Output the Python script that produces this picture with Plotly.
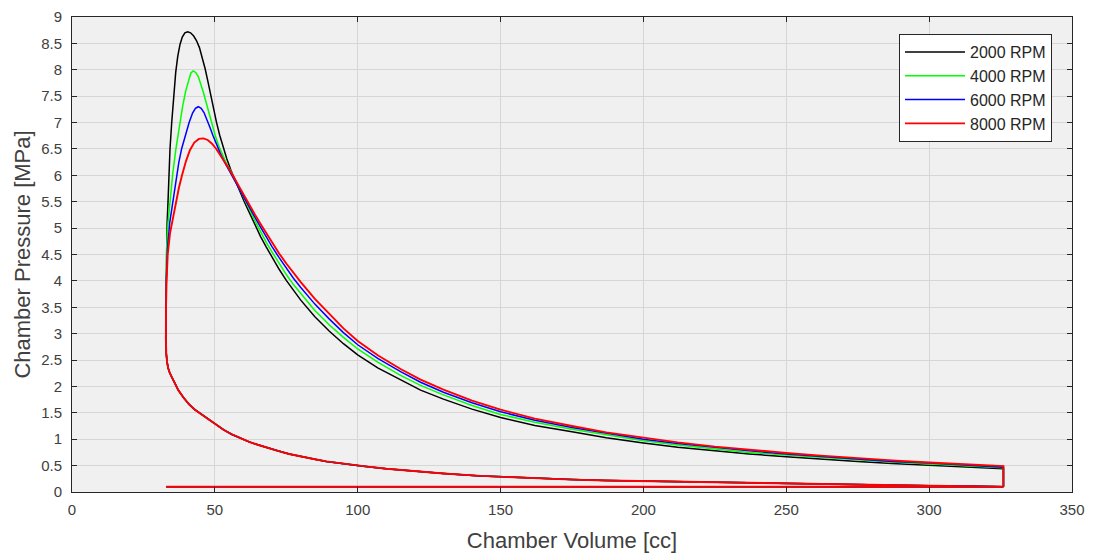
import plotly.graph_objects as go

# ---- shared part of the cycle (intake line + compression) ----
intake_V = [33.0, 326.0]
intake_P = [0.10, 0.10]

comp_V = [326, 313, 300, 287, 275, 262, 250, 237, 225, 212, 200, 187, 175, 166, 157, 143,
          130, 120, 110, 102, 94, 89, 85, 80, 76, 72, 68, 65, 62, 59, 56, 53, 50.6, 47.5,
          45, 43, 41, 39, 37.2, 36.2, 35.5, 34.8, 34.2, 33.7, 33.3, 33.0, 32.85, 32.8, 32.9]
comp_P = [0.105, 0.112, 0.12, 0.13, 0.14, 0.148, 0.155, 0.165, 0.175, 0.187, 0.20, 0.217,
          0.235, 0.252, 0.27, 0.305, 0.35, 0.39, 0.44, 0.49, 0.54, 0.58, 0.62, 0.67, 0.72,
          0.78, 0.84, 0.895, 0.95, 1.02, 1.09, 1.18, 1.27, 1.38, 1.47, 1.56, 1.66, 1.79,
          1.93, 2.03, 2.12, 2.19, 2.26, 2.34, 2.45, 2.62, 2.9, 3.2, 3.5]

# ---- combustion / expansion per engine speed ----
rpm_labels = ["2000 RPM", "4000 RPM", "6000 RPM", "8000 RPM"]
rpm_colors = ["#000000", "#00ff00", "#0000ff", "#ff0000"]
rpm_widths = [1.5, 1.5, 1.5, 1.9]

tail_V = [80, 85, 90, 95, 100, 107, 115, 122, 130, 140, 150, 162, 175, 187, 200, 212,
          225, 237, 250, 262, 275, 287, 300, 313, 326]

exp_V_2000 = [33.0, 33.1, 33.3, 33.6, 33.9, 34.3, 34.9, 35.5, 36.3, 37.0, 37.8, 38.6,
              39.5, 40.5, 41.5, 42.6, 43.6, 44.6, 45.6, 46.6, 47.6, 48.6, 49.6, 50.6,
              51.7, 52.9, 54.2, 55.6, 57.1, 58.6, 60.3, 62.2, 64, 66, 68, 70, 72.5, 75,
              77.5] + tail_V
exp_P_2000 = [4.0, 4.6, 5.1, 5.5, 6.0, 6.5, 7.0, 7.45, 7.95, 8.25, 8.48, 8.62,
              8.70, 8.72, 8.70, 8.64, 8.55, 8.42, 8.24, 8.02, 7.77, 7.5, 7.24, 7.0,
              6.76, 6.53, 6.31, 6.1, 5.9, 5.71, 5.5, 5.28, 5.06, 4.84, 4.64, 4.45, 4.22,
              4.01, 3.82,
              3.64, 3.32, 3.05, 2.81, 2.60, 2.35, 2.12, 1.93, 1.76, 1.57, 1.41, 1.26,
              1.14, 1.03, 0.93, 0.85, 0.78, 0.72, 0.67, 0.62, 0.58, 0.54, 0.51, 0.47, 0.44]

exp_V_4000 = [33.0, 33.1, 33.6, 34.4, 35.3, 36.4, 37.6, 38.7, 39.8, 40.8, 41.6, 42.4,
              43.3, 44.2, 45.1, 46.0, 47.0, 48.0, 49.0, 50.1, 51.3, 52.6, 54.0, 55.6,
              57.1, 58.6, 60.3, 62.2, 64, 66, 68, 70, 72.5, 75, 77.5] + tail_V
exp_P_4000 = [4.0, 4.6, 5.1, 5.6, 6.05, 6.51, 6.95, 7.3, 7.6, 7.82, 7.94, 7.98,
              7.95, 7.87, 7.74, 7.57, 7.37, 7.16, 6.96, 6.76, 6.57, 6.4, 6.23, 6.08,
              5.92, 5.75, 5.56, 5.35, 5.14, 4.93, 4.73, 4.55, 4.33, 4.12, 3.93,
              3.76, 3.44, 3.17, 2.93, 2.71, 2.46, 2.21, 2.02, 1.84, 1.64, 1.47, 1.32,
              1.19, 1.08, 0.97, 0.89, 0.81, 0.75, 0.70, 0.65, 0.61, 0.57, 0.53, 0.49, 0.46]

exp_V_6000 = [33.0, 33.4, 34.2, 35.3, 36.6, 37.4, 38.4, 39.7, 41.0, 42.2, 43.2, 44.2,
              45.2, 46.2, 47.2, 48.2, 49.3, 50.5, 51.8, 53.2, 54.6, 56.1, 57.6, 59.2,
              60.8, 62.5, 64, 66, 68, 70, 72.5, 75, 77.5] + tail_V
exp_P_6000 = [4.0, 4.6, 5.1, 5.5, 6.0, 6.25, 6.51, 6.78, 7.0, 7.18, 7.27, 7.30,
              7.27, 7.19, 7.07, 6.92, 6.76, 6.59, 6.43, 6.27, 6.13, 5.99, 5.84, 5.68,
              5.52, 5.36, 5.21, 5.02, 4.83, 4.65, 4.44, 4.24, 4.05,
              3.88, 3.56, 3.28, 3.02, 2.79, 2.53, 2.28, 2.08, 1.89, 1.69, 1.52, 1.36,
              1.22, 1.11, 1.00, 0.92, 0.84, 0.78, 0.72, 0.67, 0.63, 0.58, 0.55, 0.51, 0.47]

exp_V_8000 = [33.1, 33.5, 34.3, 35.2, 36.4, 37.4, 38.5, 39.9, 41.3, 42.8, 44.4, 46.0,
              47.5, 49.0, 50.5, 52.0, 53.5, 55.0, 56.6, 58.3, 60.2, 62.2, 64, 66, 68,
              70, 72.5, 75, 77.5] + tail_V
exp_P_8000 = [4.0, 4.5, 4.9, 5.15, 5.5, 5.76, 6.0, 6.27, 6.48, 6.62, 6.69, 6.70,
              6.67, 6.6, 6.5, 6.38, 6.25, 6.12, 5.97, 5.8, 5.62, 5.43, 5.26, 5.08, 4.9,
              4.73, 4.52, 4.33, 4.15,
              3.98, 3.66, 3.37, 3.1, 2.86, 2.59, 2.33, 2.13, 1.94, 1.73, 1.56, 1.39,
              1.25, 1.13, 1.03, 0.94, 0.86, 0.80, 0.74, 0.69, 0.64, 0.60, 0.56, 0.52, 0.49]

exp_V = [exp_V_2000, exp_V_4000, exp_V_6000, exp_V_8000]
exp_P = [exp_P_2000, exp_P_4000, exp_P_6000, exp_P_8000]

x_ticks = [0, 50, 100, 150, 200, 250, 300, 350]
y_ticks = [0, 0.5, 1, 1.5, 2, 2.5, 3, 3.5, 4, 4.5, 5, 5.5, 6, 6.5, 7, 7.5, 8, 8.5, 9]
y_tick_text = ["0", "0.5", "1", "1.5", "2", "2.5", "3", "3.5", "4", "4.5", "5", "5.5",
               "6", "6.5", "7", "7.5", "8", "8.5", "9"]

fig = go.Figure()
for lab, col, w, ev, ep in zip(rpm_labels, rpm_colors, rpm_widths, exp_V, exp_P):
    # closed loop: intake -> compression -> combustion/expansion -> blowdown
    V = intake_V + comp_V + ev + [ev[-1], intake_V[-1]]
    P = intake_P + comp_P + ep + [intake_P[-1] + 0.005, intake_P[-1]]
    fig.add_trace(go.Scatter(x=V, y=P, mode="lines", name=lab,
                             line=dict(color=col, width=w)))

axis_col = "#262626"
grid_col = "#d6d6d6"
font_family = "Liberation Sans, Arial, sans-serif"

fig.update_layout(
    width=1093, height=553,
    margin=dict(l=72, r=21, t=17, b=61),
    paper_bgcolor="white",
    plot_bgcolor="#f0f0f0",
    font=dict(family=font_family, size=15, color="#404040"),
    showlegend=True,
    legend=dict(
        x=0.98, y=0.964, xanchor="right", yanchor="top",
        bgcolor="white", bordercolor=axis_col, borderwidth=1,
        font=dict(family=font_family, size=16, color="#262626"),
        itemwidth=60, tracegroupgap=0,
    ),
)
fig.update_xaxes(
    range=[0, 350], tickvals=x_ticks, ticktext=[str(t) for t in x_ticks],
    showgrid=True, gridcolor=grid_col, gridwidth=1, automargin=False,
    zeroline=False, showline=True, linecolor=axis_col, linewidth=1,
    mirror="ticks", ticks="inside", ticklen=5, tickcolor=axis_col,
    ticklabelstandoff=4,
    title=dict(text="Chamber Volume [cc]", font=dict(size=22, color="#404040"), standoff=16),
    tickfont=dict(size=15, color="#404040"),
)
fig.update_yaxes(
    range=[0, 9], tickvals=y_ticks, ticktext=y_tick_text,
    showgrid=True, gridcolor=grid_col, gridwidth=1, automargin=False,
    zeroline=False, showline=True, linecolor=axis_col, linewidth=1,
    mirror="ticks", ticks="inside", ticklen=5, tickcolor=axis_col,
    ticklabelstandoff=6,
    title=dict(text="Chamber Pressure [MPa]", font=dict(size=22, color="#404040"), standoff=4),
    tickfont=dict(size=15, color="#404040"),
)

fig.write_html("out.html")
